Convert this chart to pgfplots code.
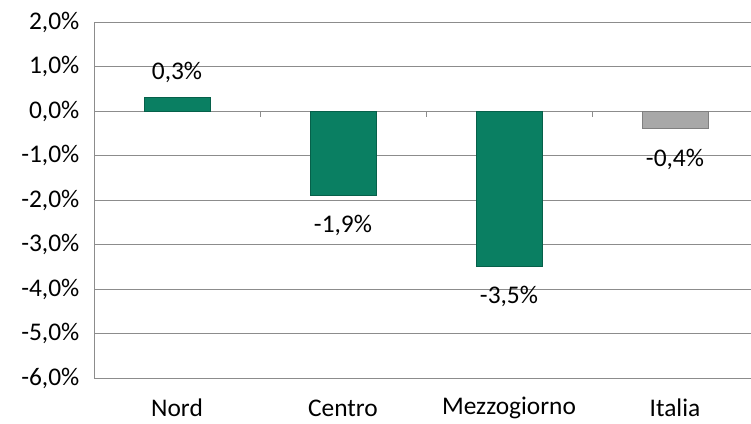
\documentclass[border=0pt]{standalone}
\usepackage{pgfplots}
\pgfplotsset{compat=1.18}
\usepackage{fontspec}
\setmainfont{Carlito}
\definecolor{bargreen}{HTML}{0A7F62}
\definecolor{bargreenedge}{HTML}{06604A}
\definecolor{bargray}{HTML}{A8A8A8}
\definecolor{bargrayedge}{HTML}{808080}
\definecolor{gridc}{HTML}{8C8C8C}
\begin{document}
\fontsize{25.5}{30}\selectfont
\begin{tikzpicture}
\path[use as bounding box] (0,0) rectangle (751bp,424bp);
\begin{axis}[
  at={(94bp,46bp)}, anchor=south west,
  scale only axis, width=664bp, height=356bp,
  xmin=-0.5, xmax=3.5, ymin=-6, ymax=2,
  axis x line=none,
  axis y line=left,
  axis line style={gridc, line width=1bp, -},
  ytick={-6,-5,-4,-3,-2,-1,0,1,2},
  yticklabels={{-6,0\%},{-5,0\%},{-4,0\%},{-3,0\%},{-2,0\%},{-1,0\%},{0,0\%},{1,0\%},{2,0\%}},
  major tick length=0pt,
  ymajorgrids, grid style={gridc, line width=1bp},
  yticklabel style={font=\fontsize{25.5}{30}\selectfont, anchor=east, xshift=-6bp},
  xtick=\empty,
  clip=false,
  ybar, bar width=66bp, bar shift=0pt,
  point meta=explicit symbolic,
  nodes near coords,
  every node near coord/.append style={font=\fontsize{25.5}{30}\selectfont, text=black, anchor=center},
]
\addplot[fill=bargreen, draw=bargreenedge, line width=1bp,
  every node near coord/.append style={yshift=25bp}]
  coordinates {(0,0.3) [{0,3\%}]};
\addplot[fill=bargreen, draw=bargreenedge, line width=1bp,
  every node near coord/.append style={yshift=-30bp}]
  coordinates {(1,-1.9) [{-1,9\%}] (2,-3.5) [{-3,5\%}]};
\addplot[fill=bargray, draw=bargrayedge, line width=1bp,
  every node near coord/.append style={yshift=-31bp}]
  coordinates {(3,-0.4) [{-0,4\%}]};
\draw[gridc, line width=1bp] (axis cs:0.5,0) -- ([yshift=-6bp]axis cs:0.5,0);
\draw[gridc, line width=1bp] (axis cs:1.5,0) -- ([yshift=-6bp]axis cs:1.5,0);
\draw[gridc, line width=1bp] (axis cs:2.5,0) -- ([yshift=-6bp]axis cs:2.5,0);
\node[font=\fontsize{25.5}{30}\selectfont, anchor=center] at (axis cs:0,-6) [yshift=-30bp] {Nord};
\node[font=\fontsize{25.5}{30}\selectfont, anchor=center] at (axis cs:1,-6) [yshift=-30bp] {Centro};
\node[font=\fontsize{25.5}{30}\selectfont, anchor=center] at (axis cs:2,-6) [yshift=-30bp] {Mezzogiorno};
\node[font=\fontsize{25.5}{30}\selectfont, anchor=center] at (axis cs:3,-6) [yshift=-30bp] {Italia};
\end{axis}
\end{tikzpicture}
\end{document}
